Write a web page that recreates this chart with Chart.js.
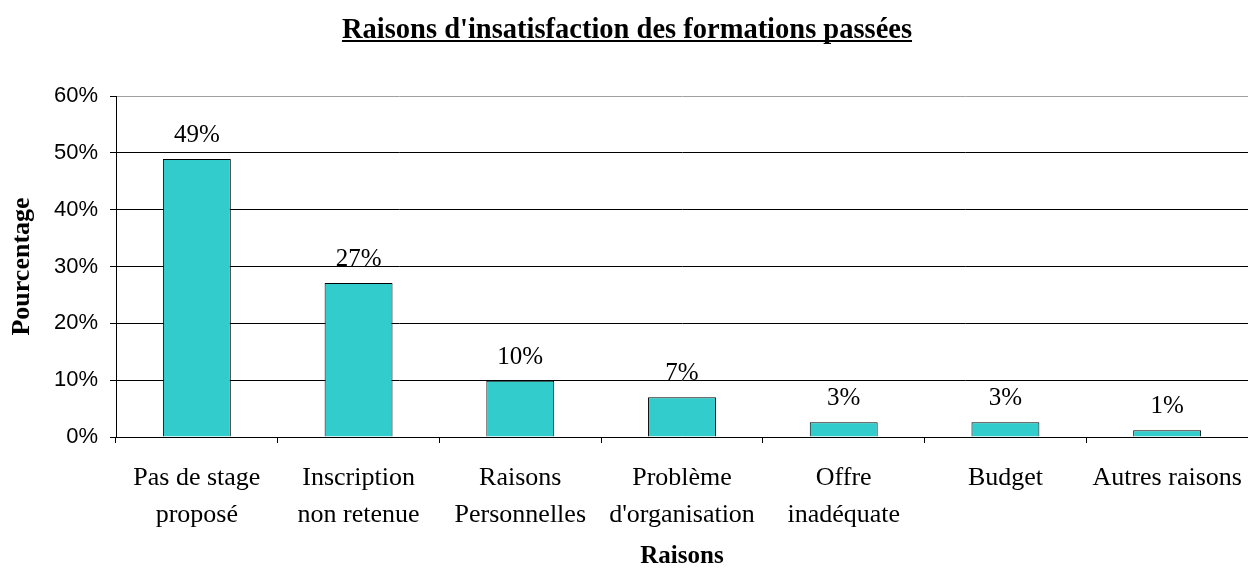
<!DOCTYPE html>
<html>
<head>
<meta charset="utf-8">
<script src="https://cdn.jsdelivr.net/npm/chart.js@4"></script>
<style>
  body { margin: 0; background: #fff; }
</style>
</head>
<body>
<canvas id="myChart" width="1248" height="569"></canvas>
<script>
const title = "Raisons d'insatisfaction des formations passées";
const labels = [
  ["Pas de stage", "proposé"],
  ["Inscription", "non retenue"],
  ["Raisons", "Personnelles"],
  ["Problème", "d'organisation"],
  ["Offre", "inadéquate"],
  ["Budget"],
  ["Autres raisons"],
];
const values = [48.9, 27.1, 9.9, 7.0, 2.6, 2.6, 1.2];
const yTicks = [0, 10, 20, 30, 40, 50, 60];

Chart.defaults.font.family = "'Liberation Serif', 'Times New Roman', serif";
Chart.defaults.color = "#000";

// title (underlined) + value labels on top of bars
const extras = {
  id: "extras",
  afterDraw(chart) {
    const ctx = chart.ctx;
    ctx.save();
    ctx.fillStyle = "#000";
    ctx.font = "bold 28.5px 'Liberation Serif'";
    ctx.textAlign = "center";
    ctx.textBaseline = "alphabetic";
    const cx = chart.width / 2 + 3;
    ctx.fillText(title, cx, 38);
    const w = ctx.measureText(title).width;
    ctx.fillRect(cx - w / 2, 40, w, 2);

    ctx.font = "25px 'Liberation Serif'";
    chart.getDatasetMeta(0).data.forEach((bar, i) => {
      ctx.fillText(Math.round(values[i]) + "%", bar.x, bar.y - 17);
    });
    ctx.restore();
  },
};

const config = {
  type: "bar",
  data: {
    labels: labels,
    datasets: [
      {
        data: values,
        backgroundColor: "#33CCCC",
        borderColor: "#000",
        borderWidth: 1,
        categoryPercentage: 1,
        barPercentage: 0.42,
      },
    ],
  },
  options: {
    responsive: false,
    animation: false,
    layout: { padding: { top: 96, left: 0, right: 0, bottom: 0 } },
    plugins: {
      legend: { display: false },
      tooltip: { enabled: false },
    },
    scales: {
      x: {
        afterFit: (s) => {
          s.height = 132;
          s.paddingLeft = 0;
          s.paddingRight = 0;
        },
        grid: {
          offset: true,
          drawOnChartArea: false,
          color: "#000",
          tickLength: 6,
        },
        border: { color: "#000" },
        ticks: {
          padding: 17,
          maxRotation: 0,
          autoSkip: false,
          font: { size: 26, lineHeight: 1.42 },
        },
        title: {
          display: true,
          text: "Raisons",
          font: { size: 25, weight: "bold", lineHeight: 1 },
          padding: 0,
        },
      },
      y: {
        min: 0,
        max: 60,
        afterFit: (s) => {
          s.width = 116;
          s.paddingTop = 0;
          s.paddingBottom = 0;
        },
        afterBuildTicks: (s) => { s.ticks = yTicks.map((v) => ({ value: v })); },
        grid: {
          color: (c) => (c.tick && c.tick.value === 60 ? "#a0a0a0" : "#000"),
          tickColor: "#000",
          tickLength: 6,
        },
        border: { color: "#000" },
        ticks: {
          padding: 12,
          font: { family: "'Liberation Sans', Arial, sans-serif", size: 22 },
          callback: (v) => v + "%",
        },
        title: {
          display: true,
          text: "Pourcentage",
          font: { size: 26, weight: "bold", lineHeight: 1 },
          padding: { top: 9, bottom: 0 },
        },
      },
    },
  },
  plugins: [extras],
};

const myChart = new Chart(document.getElementById("myChart"), config);
</script>
</body>
</html>
